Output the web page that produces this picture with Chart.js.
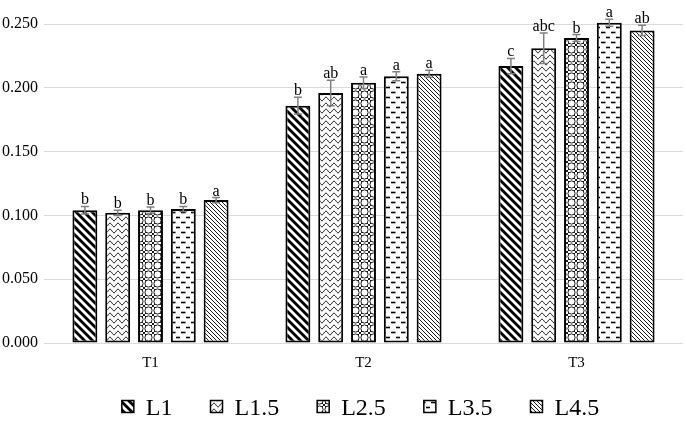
<!DOCTYPE html>
<html>
<head>
<meta charset="utf-8">
<script src="https://cdn.jsdelivr.net/npm/chart.js@4.4.1/dist/chart.umd.min.js"></script>
<style>
  html, body { margin: 0; padding: 0; background: #ffffff; }
  #wrap { width: 685px; height: 421px; position: relative; }
</style>
</head>
<body>
<div id="wrap"><canvas id="c"></canvas></div>
<script>
// ---- data ----
const categories = ['T1', 'T2', 'T3'];
const seriesNames = ['L1', 'L1.5', 'L2.5', 'L3.5', 'L4.5'];

const L1   = [0.104, 0.186, 0.217];
const L1_5 = [0.102, 0.196, 0.231];
const L2_5 = [0.104, 0.204, 0.239];
const L3_5 = [0.105, 0.209, 0.251];
const L4_5 = [0.112, 0.211, 0.245];

const L1err   = [0.003, 0.0065, 0.006];
const L1_5err = [0.002, 0.010, 0.012];
const L2_5err = [0.0025, 0.0045, 0.0027];
const L3_5err = [0.002, 0.0035, 0.0027];
const L4_5err = [0.002, 0.0027, 0.004];

const L1sig   = ['b', 'b', 'c'];
const L1_5sig = ['b', 'ab', 'abc'];
const L2_5sig = ['b', 'a', 'b'];
const L3_5sig = ['b', 'a', 'a'];
const L4_5sig = ['a', 'a', 'ab'];

const yTicks = [0, 0.05, 0.10, 0.15, 0.20, 0.25];

const seriesValues = [L1, L1_5, L2_5, L3_5, L4_5];
const seriesErrors = [L1err, L1_5err, L2_5err, L3_5err, L4_5err];
const seriesLetters = [L1sig, L1_5sig, L2_5sig, L3_5sig, L4_5sig];

// ---- patterns ----
function tile(w, h, draw) {
  const c = document.createElement('canvas');
  c.width = w; c.height = h;
  const g = c.getContext('2d');
  g.fillStyle = '#ffffff';
  g.fillRect(0, 0, w, h);
  g.strokeStyle = '#000000';
  g.fillStyle = '#000000';
  draw(g, w, h);
  return document.createElement('canvas').getContext('2d').createPattern(c, 'repeat');
}
const patterns = [
  // L1: bold backslash stripes
  tile(8, 8, (g) => {
    g.lineWidth = 2.8;
    for (const o of [-8, 0, 8]) {
      g.beginPath(); g.moveTo(o - 2, -2); g.lineTo(o + 10, 10); g.stroke();
    }
  }),
  // L1.5: waves
  tile(8, 6, (g) => {
    g.lineWidth = 1;
    g.beginPath();
    for (let x = -1; x <= 9; x += 0.5) {
      const y = 3 + 1.8 * Math.sin(2 * Math.PI * x / 8);
      if (x === -1) g.moveTo(x, y); else g.lineTo(x, y);
    }
    g.stroke();
  }),
  // L2.5: circles with crossing diagonals
  tile(9, 9, (g) => {
    g.lineWidth = 0.9;
    g.beginPath(); g.moveTo(0, 0); g.lineTo(9, 9); g.stroke();
    g.beginPath(); g.moveTo(9, 0); g.lineTo(0, 9); g.stroke();
    g.fillStyle = '#ffffff';
    g.beginPath(); g.arc(4.5, 4.5, 3.6, 0, Math.PI * 2); g.fill(); g.stroke();
  }),
  // L3.5: dashes
  tile(10, 10, (g) => {
    g.lineWidth = 1.6;
    g.beginPath(); g.moveTo(1, 2.5); g.lineTo(5.5, 2.5); g.stroke();
    g.beginPath(); g.moveTo(6, 7.5); g.lineTo(10.5, 7.5); g.stroke();
  }),
  // L4.5: fine backslash lines
  tile(4, 4, (g) => {
    g.lineWidth = 0.9;
    for (const o of [-4, 0, 4]) {
      g.beginPath(); g.moveTo(o - 1, -1); g.lineTo(o + 5, 5); g.stroke();
    }
  })
];

// ---- error bars + letters plugin ----
const errorPlugin = {
  id: 'errorLetters',
  afterDatasetsDraw(chart) {
    const ctx = chart.ctx;
    const ys = chart.scales.y;
    ctx.save();
    chart.data.datasets.forEach((ds, i) => {
      const meta = chart.getDatasetMeta(i);
      meta.data.forEach((bar, j) => {
        const v = ds.data[j];
        const e = seriesErrors[i][j];
        const yt = ys.getPixelForValue(v + e);
        const yb = ys.getPixelForValue(v - e);
        ctx.strokeStyle = '#808080';
        ctx.lineWidth = 1.5;
        ctx.beginPath();
        ctx.moveTo(bar.x, yt); ctx.lineTo(bar.x, yb);
        ctx.moveTo(bar.x - 4, yt); ctx.lineTo(bar.x + 4, yt);
        ctx.moveTo(bar.x - 4, yb); ctx.lineTo(bar.x + 4, yb);
        ctx.stroke();
        ctx.fillStyle = '#000000';
        ctx.font = '16px "Liberation Serif"';
        ctx.textAlign = 'center';
        ctx.textBaseline = 'alphabetic';
        ctx.fillText(seriesLetters[i][j], bar.x, yt - 2);
      });
    });
    ctx.restore();
  }
};

// ---- custom bottom legend (uses dataset labels and fills) ----
const legendPlugin = {
  id: 'bottomLegend',
  afterDraw(chart) {
    const ctx = chart.ctx;
    const font = '24px "Liberation Serif"';
    const box = 12, gapText = 12, gapItem = 38;
    ctx.save();
    ctx.font = font;
    const items = chart.data.datasets.map(ds => ({
      ds, w: box + gapText + ctx.measureText(ds.label).width
    }));
    const total = items.reduce((s, it) => s + it.w, 0) + gapItem * (items.length - 1);
    const cx = (chart.chartArea.left + chart.chartArea.right) / 2 - 3;
    let x = cx - total / 2;
    const boxTop = 400.5, baseline = 414.5;
    items.forEach(it => {
      ctx.fillStyle = it.ds.backgroundColor;
      ctx.fillRect(x, boxTop, box, box);
      ctx.strokeStyle = '#000000';
      ctx.lineWidth = 1.5;
      ctx.strokeRect(x, boxTop, box, box);
      ctx.fillStyle = '#000000';
      ctx.textAlign = 'left';
      ctx.textBaseline = 'alphabetic';
      ctx.fillText(it.ds.label, x + box + gapText, baseline);
      x += it.w + gapItem;
    });
    ctx.restore();
  }
};

const datasets = seriesNames.map((name, i) => ({
  label: name,
  data: seriesValues[i],
  backgroundColor: patterns[i],
  borderColor: '#000000',
  borderWidth: 2,
  borderSkipped: false,
  categoryPercentage: 0.77,
  barPercentage: 0.76,
  clip: false
}));

new Chart(document.getElementById('c'), {
  type: 'bar',
  data: { labels: categories, datasets },
  options: {
    responsive: true,
    maintainAspectRatio: false,
    animation: false,
    layout: { padding: { top: 24, left: -4, right: 2, bottom: 46 } },
    plugins: {
      legend: { display: false },
      tooltip: { enabled: false }
    },
    scales: {
      x: {
        grid: { display: false },
        border: { display: false },
        ticks: { font: { family: 'Liberation Serif', size: 15 }, color: '#000000', padding: 3 }
      },
      y: {
        min: 0,
        max: 0.25,
        afterBuildTicks(axis) { axis.ticks = yTicks.map(v => ({ value: v })); },
        grid: { color: '#d9d9d9', lineWidth: 1, drawTicks: false },
        border: { display: false },
        ticks: {
          font: { family: 'Liberation Serif', size: 16 },
          color: '#000000',
          padding: 6,
          callback: (v) => Number(v).toFixed(3)
        }
      }
    }
  },
  plugins: [errorPlugin, legendPlugin]
});
</script>
</body>
</html>
